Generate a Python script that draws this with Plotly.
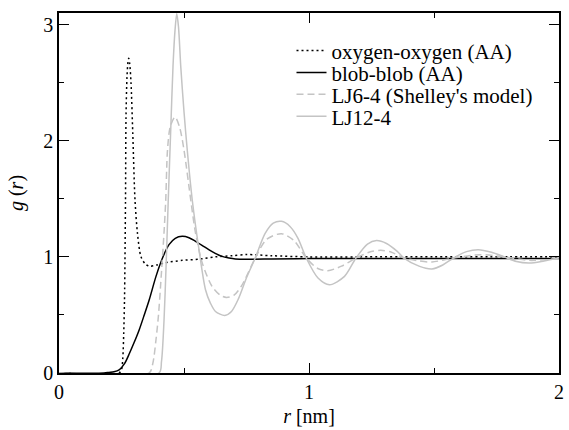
import plotly.graph_objects as go

# ---- data ----
r_oo = [0, 0.24, 0.25, 0.255, 0.259, 0.262, 0.266, 0.268, 0.272, 0.276, 0.279, 0.283, 0.288, 0.295,
        0.304, 0.314, 0.328, 0.345, 0.361, 0.39, 0.427, 0.493, 0.56, 0.626, 0.692, 0.75, 0.85,
        1.0, 1.2, 1.5, 1.8, 2.0]
g_oo = [0, 0, 0.03, 0.12, 0.35, 0.63, 1.49, 2.2, 2.55, 2.68, 2.71, 2.66, 2.50, 2.07,
        1.49, 1.2, 1.0, 0.94, 0.92, 0.93, 0.95, 0.97, 0.98, 1.0, 1.01, 1.02, 1.01,
        1.0, 1.0, 1.0, 1.0, 1.0]

r_bb = [0, 0.18, 0.2, 0.22, 0.242, 0.262, 0.282, 0.3, 0.321, 0.341, 0.361, 0.388, 0.414, 0.44,
        0.465, 0.493, 0.52, 0.546, 0.572, 0.599, 0.625, 0.652, 0.68, 0.705, 0.76, 0.85, 1.0,
        1.5, 2.0]
g_bb = [0, 0, 0.005, 0.01, 0.03, 0.08, 0.17, 0.26, 0.373, 0.5, 0.631, 0.832, 0.99, 1.105,
        1.16, 1.177, 1.165, 1.134, 1.1, 1.062, 1.03, 1.004, 0.99, 0.982, 0.98, 0.982, 0.985,
        0.985, 0.985]

r_lj64 = [0, 0.36, 0.375, 0.388, 0.398, 0.407, 0.42, 0.427, 0.434, 0.445, 0.464, 0.482, 0.5,
          0.527, 0.546, 0.573, 0.612, 0.645, 0.67, 0.7, 0.73, 0.785, 0.83, 0.89, 0.94, 0.989,
          1.035, 1.075, 1.13, 1.188, 1.24, 1.287, 1.33, 1.38, 1.44, 1.492, 1.578, 1.684, 1.78,
          1.882, 2.0]
g_lj64 = [0, 0, 0.08, 0.287, 0.5, 0.775, 1.206, 1.49, 1.92, 2.12, 2.205, 2.12, 1.92,
          1.49, 1.206, 0.947, 0.746, 0.67, 0.651, 0.67, 0.75, 0.99, 1.15, 1.2, 1.14, 0.99,
          0.9, 0.881, 0.92, 0.99, 1.04, 1.056, 1.04, 0.99, 0.965, 0.956, 0.99, 1.019, 1.0,
          0.97, 0.985]

r_lj124 = [0, 0.40, 0.41, 0.42, 0.428, 0.437, 0.447, 0.456, 0.464, 0.471, 0.478, 0.487, 0.5,
           0.513, 0.533, 0.56, 0.586, 0.606, 0.626, 0.663, 0.69, 0.718, 0.75, 0.785, 0.824,
           0.857, 0.89, 0.925, 0.956, 0.989, 1.036, 1.082, 1.142, 1.188, 1.234, 1.27, 1.31,
           1.353, 1.38, 1.44, 1.492, 1.535, 1.578, 1.63, 1.677, 1.73, 1.777, 1.83, 1.882,
           1.94, 2.0]
g_lj124 = [0, 0, 0.1, 0.45, 0.9, 1.49, 2.1, 2.64, 2.95, 3.095, 2.98, 2.64, 2.25,
           1.92, 1.49, 1.062, 0.717, 0.6, 0.53, 0.496, 0.53, 0.64, 0.82, 0.99, 1.2,
           1.29, 1.306, 1.26, 1.16, 0.99, 0.818, 0.76, 0.832, 0.99, 1.11, 1.14, 1.115,
           1.047, 0.99, 0.92, 0.896, 0.93, 0.99, 1.045, 1.062, 1.04, 1.004, 0.96, 0.947,
           0.965, 0.99]

names = ["oxygen-oxygen (AA)", "blob-blob (AA)", "LJ6-4 (Shelley's model)", "LJ12-4"]
x_ticks = [0, 1, 2]
y_ticks = [0, 1, 2, 3]

FONT = "Liberation Serif, Times New Roman, Times, serif"
GRAY = "#c4c4c4"

fig = go.Figure()
series = [
    (r_oo, g_oo, names[0], dict(color="black", width=1.5, dash="2px,3px"), "legend2"),
    (r_bb, g_bb, names[1], dict(color="black", width=1.5), "legend3"),
    (r_lj64, g_lj64, names[2], dict(color=GRAY, width=1.5, dash="7px,4px"), "legend4"),
    (r_lj124, g_lj124, names[3], dict(color=GRAY, width=1.5), "legend5"),
]
for xs, ys, nm, ln, lg in series:
    ln = dict(ln, shape="spline", smoothing=0.8)
    fig.add_trace(go.Scatter(x=xs, y=ys, mode="lines", name=nm, line=ln, legend=lg))

leg_common = dict(x=0.465, xanchor="left", yanchor="middle", bgcolor="rgba(0,0,0,0)",
                  borderwidth=0, font=dict(family=FONT, size=21, color="black"))
row_y = [0.895, 0.834, 0.773, 0.712]

axis_common = dict(
    showline=True, linecolor="black", linewidth=1.5, mirror="ticks",
    ticks="inside", ticklen=10, tickwidth=1.2, tickcolor="black",
    showgrid=False, zeroline=False,
    tickfont=dict(family=FONT, size=20, color="black"),
    minor=dict(ticks="inside", ticklen=5, tickwidth=1.2, tickcolor="black", dtick=0.5, showgrid=False),
)

fig.update_layout(
    width=569, height=430,
    margin=dict(l=59, r=5, t=13, b=57),
    paper_bgcolor="white", plot_bgcolor="white",
    font=dict(family=FONT, size=20, color="black"),
    xaxis=dict(axis_common, range=[0, 2], tickvals=x_ticks,
               title=dict(text="<i>r</i> [nm]", font=dict(family=FONT, size=20), standoff=7)),
    yaxis=dict(axis_common, range=[0, 3.1], tickvals=y_ticks,
               title=dict(text="<i>g</i> (<i>r</i>)", font=dict(family=FONT, size=20), standoff=14)),
    legend2=dict(leg_common, y=row_y[0]),
    legend3=dict(leg_common, y=row_y[1]),
    legend4=dict(leg_common, y=row_y[2]),
    legend5=dict(leg_common, y=row_y[3]),
)

fig.write_html("out.html", config={"displayModeBar": False},
               post_script="document.body.style.margin='0';document.body.style.overflow='hidden';")
